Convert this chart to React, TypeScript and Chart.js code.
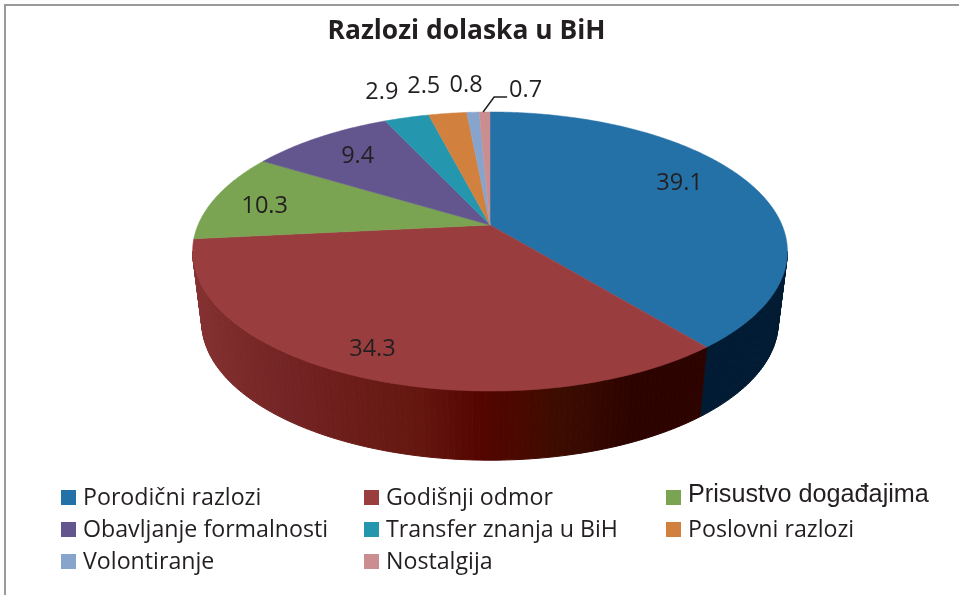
import React, { useEffect, useRef } from "react";
import { Chart, registerables } from "chart.js";

Chart.register(...registerables);

const categories = [
  "Porodični razlozi",
  "Godišnji odmor",
  "Prisustvo događajima",
  "Obavljanje formalnosti",
  "Transfer znanja u BiH",
  "Poslovni razlozi",
  "Volontiranje",
  "Nostalgija",
];
const values = [39.1, 34.3, 10.3, 9.4, 2.9, 2.5, 0.8, 0.7];
const faceColors = ["#2471a8", "#9a3d3f", "#7aa352", "#63568f", "#2496ae", "#d2803e", "#87a4cc", "#cb8e90"];
const wallColors = ["#001b33", "#5a0a00", "#3d5229", "#322b48", "#124b57", "#69401f", "#445266", "#674748"];
const redWallStops: number[][] = [
  [-1, 135, 50, 50],
  [-0.6, 116, 36, 36],
  [-0.2, 100, 22, 15],
  [-0.03, 85, 5, 0],
  [0.2, 60, 12, 0],
  [0.4, 45, 3, 0],
  [1, 45, 3, 0],
];
const labelOffsets: number[][] = [
  [-69, 1],
  [18, -26],
  [48, 9.5],
  [38, 19],
  [-25, -25.5],
  [-24, -27],
  [-7, -27],
  [41, -22],
];

const TOP = { cx: 490, cy: 225, a: 292, b: 134.5, c: 0.19 };
const BOTTOM = { cx: 490, cy: 296, a: 283, b: 133, c: 0.19 };
const TEXT = "#231f20";
const SANS = "'Open Sans'";
// The wall is only seen between the two points where top and bottom rims are widest.
const WALL_FROM = Math.acos(-TOP.c);
const WALL_TO = 2 * Math.PI - WALL_FROM;

type Plane = typeof TOP;
const project = (p: Plane, th: number, r = 1): [number, number] => {
  const u = r * Math.sin(th);
  const v = -r * Math.cos(th);
  const d = 1 - p.c * v;
  return [p.cx + (p.a * u) / d, p.cy + (p.b * v) / d];
};

const wallColor = (i: number, th: number) => {
  if (i !== 1) return wallColors[i];
  const u = Math.sin(th);
  for (let s = 1; s < redWallStops.length; s++) {
    const A = redWallStops[s - 1];
    const B = redWallStops[s];
    if (u <= B[0]) {
      const t = (u - A[0]) / (B[0] - A[0]);
      const m = (k: number) => Math.round(A[k] + (B[k] - A[k]) * t);
      return `rgb(${m(1)},${m(2)},${m(3)})`;
    }
  }
  return wallColors[i];
};

const pie3d = {
  id: "pie3d",
  beforeDatasetDraw() {
    return false;
  },
  afterDatasetsDraw(chart: any) {
    const ctx: CanvasRenderingContext2D = chart.ctx;
    const arcs: any[] = chart.getDatasetMeta(0).data;
    const step = Math.PI / 180;
    ctx.save();
    ctx.lineWidth = 1;
    // side wall
    arcs.forEach((arc, i) => {
      const s = Math.max(arc.startAngle + Math.PI / 2, WALL_FROM);
      const e = Math.min(arc.endAngle + Math.PI / 2, WALL_TO);
      for (let th = s; th < e - 1e-6; th += step) {
        const n = Math.min(th + step, e);
        const col = wallColor(i, (th + n) / 2);
        ctx.fillStyle = col;
        ctx.strokeStyle = col;
        ctx.beginPath();
        ctx.moveTo(...project(TOP, th));
        ctx.lineTo(...project(TOP, n));
        ctx.lineTo(...project(BOTTOM, n));
        ctx.lineTo(...project(BOTTOM, th));
        ctx.closePath();
        ctx.fill();
        ctx.stroke();
      }
    });
    // top face
    ctx.lineWidth = 0.5;
    arcs.forEach((arc, i) => {
      const s = arc.startAngle + Math.PI / 2;
      const e = arc.endAngle + Math.PI / 2;
      ctx.fillStyle = faceColors[i];
      ctx.strokeStyle = faceColors[i];
      ctx.beginPath();
      ctx.moveTo(TOP.cx, TOP.cy);
      for (let th = s; th < e; th += step / 2) ctx.lineTo(...project(TOP, th));
      ctx.lineTo(...project(TOP, e));
      ctx.closePath();
      ctx.fill();
      ctx.stroke();
    });
    // value labels
    ctx.fillStyle = TEXT;
    ctx.font = `23.5px ${SANS}`;
    ctx.textAlign = "center";
    ctx.textBaseline = "middle";
    arcs.forEach((arc, i) => {
      const mid = (arc.startAngle + arc.endAngle) / 2 + Math.PI / 2;
      const [x, y] = project(TOP, mid);
      ctx.fillText(String(values[i]), x + labelOffsets[i][0], y + labelOffsets[i][1]);
    });
    // leader line of the last slice
    const last = arcs[arcs.length - 1];
    const [lx, ly] = project(TOP, (last.startAngle + last.endAngle) / 2 + Math.PI / 2);
    ctx.strokeStyle = TEXT;
    ctx.lineWidth = 1.5;
    ctx.beginPath();
    ctx.moveTo(lx - 1.5, ly);
    ctx.lineTo(lx + 9.5, ly - 15);
    ctx.lineTo(lx + 22.5, ly - 15);
    ctx.stroke();
    ctx.restore();
  },
  afterDraw(chart: any) {
    const ctx: CanvasRenderingContext2D = chart.ctx;
    ctx.save();
    // frame
    ctx.fillStyle = "#9a9a9a";
    ctx.fillRect(4, 4, 955, 2);
    ctx.fillRect(4, 4, 2, 591);
    // legend
    const colX = [61, 364, 666];
    const rowY = [497.5, 529.5, 561.5];
    ctx.textBaseline = "middle";
    ctx.textAlign = "left";
    categories.forEach((name, i) => {
      const col = i % 3;
      const row = Math.floor(i / 3);
      ctx.fillStyle = faceColors[i];
      ctx.fillRect(colX[col], rowY[row] - 7.5, 15, 15);
      ctx.fillStyle = TEXT;
      ctx.font = i === 2 ? "25.2px 'Liberation Sans'" : `23.2px ${SANS}`;
      ctx.fillText(name, colX[col] + 22, rowY[row] + (i === 2 ? -2 : 1));
    });
    ctx.restore();
  },
};

export default function App() {
  const ref = useRef<HTMLCanvasElement>(null);
  useEffect(() => {
    document.body.style.margin = "0";
    const chart = new Chart(ref.current!, {
      type: "pie",
      data: {
        labels: categories,
        datasets: [{ data: values, backgroundColor: faceColors, borderWidth: 0 }],
      },
      options: {
        responsive: false,
        animation: false,
        layout: { padding: { right: 26, bottom: 130 } },
        plugins: {
          legend: { display: false },
          tooltip: { enabled: false },
          title: {
            display: true,
            text: "Razlozi dolaska u BiH",
            color: TEXT,
            font: { family: SANS, size: 26.4, weight: "bold" },
            padding: { top: 16, bottom: 10 },
          },
        },
      },
      plugins: [pie3d],
    } as any);
    return () => chart.destroy();
  }, []);
  return <canvas ref={ref} width={959} height={595} style={{ display: "block" }} />;
}
